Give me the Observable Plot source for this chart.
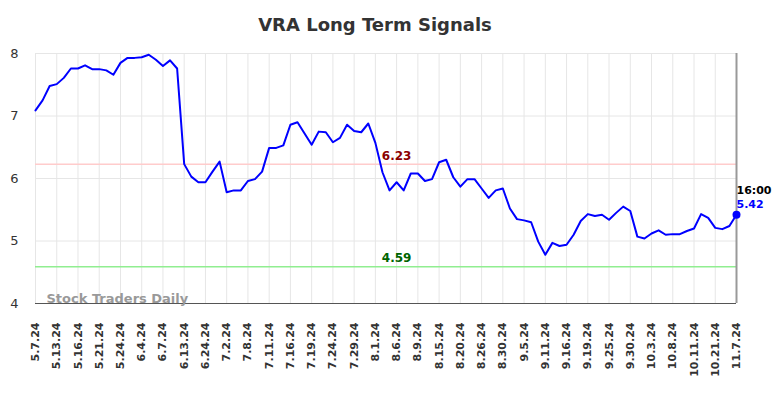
<!DOCTYPE html>
<html>
<head>
<meta charset="utf-8">
<script src="https://cdn.jsdelivr.net/npm/d3@7"></script>
<script src="https://cdn.jsdelivr.net/npm/@observablehq/plot@0.6"></script>
<style>
  body { margin: 0; background: #fff; font-family: "DejaVu Sans", sans-serif; }
  #wrap { position: relative; width: 784px; height: 398px; }
  #title { position: absolute; left: 0; top: 14px; width: 750px; text-align: center; font-weight: bold; font-size: 18px; color: #333; }
  #chart { position: absolute; left: 0; top: 40px; }
</style>
</head>
<body>
<div id="wrap">
  <div id="title">VRA Long Term Signals</div>
  <div id="chart"></div>
</div>
<script>
const tickLabels = ["5.7.24","5.13.24","5.16.24","5.21.24","5.24.24","6.4.24","6.7.24","6.13.24","6.24.24","7.2.24","7.8.24","7.11.24","7.16.24","7.19.24","7.24.24","7.29.24","8.1.24","8.6.24","8.9.24","8.15.24","8.20.24","8.26.24","8.30.24","9.5.24","9.11.24","9.16.24","9.19.24","9.25.24","9.30.24","10.3.24","10.8.24","10.11.24","10.21.24","11.7.24"];

const prices = [
  7.09,7.25,7.48,7.51,7.61,7.76,7.76,7.81,7.75,7.75,
  7.73,7.66,7.85,7.93,7.93,7.94,7.98,7.90,7.80,7.89,
  7.76,6.23,6.03,5.94,5.94,6.11,6.27,5.78,5.81,5.81,
  5.96,5.99,6.11,6.49,6.49,6.53,6.86,6.90,6.72,6.54,
  6.75,6.74,6.58,6.65,6.86,6.76,6.74,6.88,6.57,6.10,
  5.81,5.94,5.81,6.08,6.08,5.96,5.99,6.26,6.30,6.02,
  5.87,5.99,5.99,5.84,5.69,5.81,5.84,5.52,5.35,5.33,
  5.30,4.99,4.78,4.97,4.92,4.94,5.10,5.32,5.43,5.40,
  5.42,5.34,5.45,5.55,5.48,5.07,5.04,5.12,5.17,5.10,
  5.11,5.11,5.16,5.20,5.43,5.37,5.21,5.19,5.24,5.42
];

const resistance = 6.23;
const support = 4.59;
const lastTime = "16:00";
const yTicks = [4, 5, 6, 7, 8];

const data = prices.map((v, i) => ({i, v}));
const idx = d3.range(prices.length);
const tickIdx = tickLabels.map((_, k) => k * 3);
const last = data[data.length - 1];
const F = "DejaVu Sans";

const plot = Plot.plot({
  width: 784,
  height: 358,
  marginTop: 13,
  marginBottom: 95,
  marginLeft: 35,
  marginRight: 48,
  style: {fontFamily: F, background: "transparent", overflow: "visible"},
  x: {type: "point", domain: idx, padding: 0, round: false},
  y: {domain: [4, 8]},
  marks: [
    Plot.ruleX(tickIdx, {x: d => d, stroke: "#e6e6e6", strokeWidth: 1}),
    Plot.ruleY(yTicks.filter(t => t > 4), {y: d => d, stroke: "#e6e6e6", strokeWidth: 1}),
    Plot.ruleY([resistance], {y: d => d, stroke: "#ffcccc", strokeWidth: 1.5}),
    Plot.ruleY([support], {y: d => d, stroke: "#90ee90", strokeWidth: 1.5}),
    Plot.ruleY([4], {y: d => d, stroke: "#555", strokeWidth: 1.2}),
    Plot.ruleX([last.i], {x: d => d, stroke: "#999", strokeWidth: 2}),
    Plot.axisY(yTicks, {tickSize: 0, tickPadding: 16, fontSize: 13, fill: "#333", textAnchor: "middle", dx: -5, tickFormat: d => String(d), label: null}),
    Plot.axisX(tickIdx, {tickSize: 0, tickPadding: 19, tickRotate: -90, tickFormat: d => tickLabels[d / 3], fontSize: 11, fontWeight: "bold", fill: "#333", label: null}),
    Plot.line(data, {x: "i", y: "v", stroke: "#0000ff", strokeWidth: 2}),
    Plot.dot([last], {x: "i", y: "v", r: 4, fill: "#0000ff"}),
    Plot.text([resistance], {x: () => 51, y: d => d, text: d => d.toFixed(2), fill: "#8b0000", fontWeight: "bold", fontSize: 12, dy: -8, textAnchor: "middle"}),
    Plot.text([support], {x: () => 51, y: d => d, text: d => d.toFixed(2), fill: "#006400", fontWeight: "bold", fontSize: 12, dy: -8, textAnchor: "middle"}),
    Plot.text([last], {x: "i", y: "v", text: () => lastTime, fill: "#000", fontWeight: "bold", fontSize: 11, textAnchor: "start", dx: 0, dy: -24}),
    Plot.text([last], {x: "i", y: "v", text: d => d.v.toFixed(2), fill: "#0000ff", fontWeight: "bold", fontSize: 11, textAnchor: "start", dx: 0, dy: -10}),
    Plot.text(["Stock Traders Daily"], {frameAnchor: "bottom-left", text: d => d, fill: "#999", fontWeight: "bold", fontSize: 13, dx: 11, dy: -1, textAnchor: "start"})
  ]
});
document.getElementById("chart").appendChild(plot);
</script>
</body>
</html>
